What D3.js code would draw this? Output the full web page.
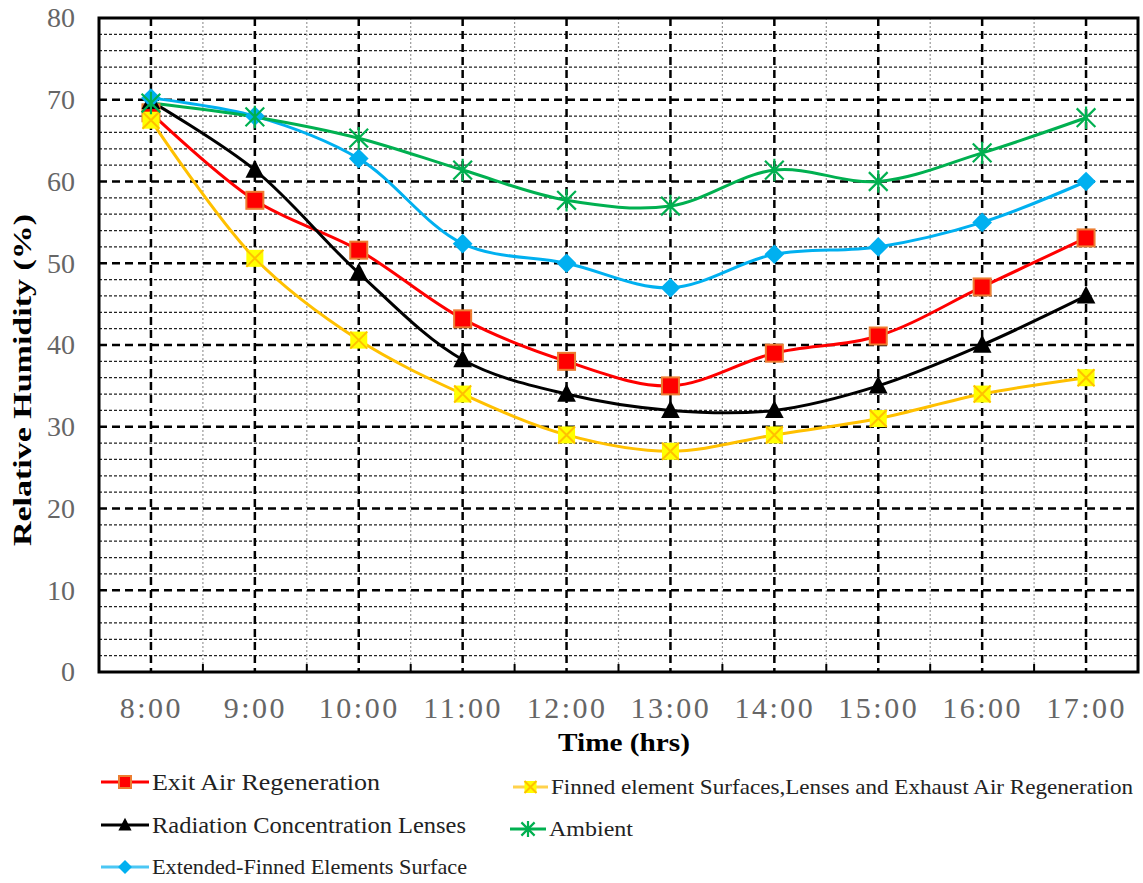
<!DOCTYPE html>
<html>
<head>
<meta charset="utf-8">
<script src="https://d3js.org/d3.v7.min.js"></script>
<style>
  body { margin: 0; background: #fff; }
  svg { display: block; }
  text { font-family: "Liberation Serif", "DejaVu Serif", serif; }
</style>
</head>
<body>
<svg id="chart" width="1143" height="883"></svg>
<script>
"use strict"

// chart values
const times = ["8:00", "9:00", "10:00", "11:00", "12:00", "13:00", "14:00", "15:00", "16:00", "17:00"]
const yTicks = [0, 10, 20, 30, 40, 50, 60, 70, 80]

const exitAir = [68.4, 57.7, 51.6, 43.2, 38.0, 35.0, 39.0, 41.1, 47.1, 53.1]
const lenses = [69.8, 61.4, 48.8, 38.2, 34.0, 32.0, 32.0, 35.0, 40.0, 46.0]
const extended = [70.2, 68.0, 62.8, 52.4, 50.0, 47.0, 51.1, 52.0, 55.0, 60.0]
const combined = [67.5, 50.6, 40.6, 34.0, 29.0, 27.0, 29.0, 31.0, 34.0, 36.0]
const ambient = [69.6, 67.9, 65.3, 61.4, 57.7, 57.0, 61.4, 60.0, 63.5, 67.8]

const seriesNames = [
  "Exit Air Regeneration",
  "Radiation Concentration Lenses",
  "Extended-Finned Elements Surface",
  "Finned element Surfaces,Lenses and Exhaust Air Regeneration",
  "Ambient",
]

function draw() {
  const $ = {
    left: 99, right: 1138, top: 18, bottom: 672,
  }
  const svg = d3.select("#chart")
  const serif = "Liberation Serif, DejaVu Serif, serif"

  const x = d3.scalePoint().domain(times).range([$.left, $.right]).padding(0.5)
  const y = d3.scaleLinear().domain([0, 80]).range([$.bottom, $.top])
  const step = x.step()

  // grid
  const grid = svg.append("g")
  const minorY = d3.range(2, 80, 2).filter(v => v % 10 !== 0)
  grid.selectAll(".minor-y").data(minorY).enter().append("line")
    .attr("x1", $.left).attr("x2", $.right)
    .attr("y1", d => y(d)).attr("y2", d => y(d))
    .attr("stroke", "#222").attr("stroke-width", 1.2).attr("stroke-dasharray", "3,2")

  const bounds = times.slice(1).map(t => x(t) - step / 2)
  grid.selectAll(".minor-x").data(bounds).enter().append("line")
    .attr("x1", d => d).attr("x2", d => d)
    .attr("y1", $.top).attr("y2", $.bottom)
    .attr("stroke", "#999").attr("stroke-width", 1.2).attr("stroke-dasharray", "2,2")

  grid.selectAll(".major-y").data(yTicks.slice(1, -1)).enter().append("line")
    .attr("x1", $.left).attr("x2", $.right)
    .attr("y1", d => y(d)).attr("y2", d => y(d))
    .attr("stroke", "#000").attr("stroke-width", 2.5).attr("stroke-dasharray", "8,5")

  grid.selectAll(".major-x").data(times).enter().append("line")
    .attr("x1", d => x(d)).attr("x2", d => x(d))
    .attr("y1", $.top).attr("y2", $.bottom)
    .attr("stroke", "#000").attr("stroke-width", 2.5).attr("stroke-dasharray", "8,5")

  // small ticks along the bottom
  grid.selectAll(".tick-x").data(bounds).enter().append("line")
    .attr("x1", d => d).attr("x2", d => d)
    .attr("y1", $.bottom).attr("y2", $.bottom - 8)
    .attr("stroke", "#000").attr("stroke-width", 2)

  // frame
  svg.append("rect")
    .attr("x", $.left).attr("y", $.top)
    .attr("width", $.right - $.left).attr("height", $.bottom - $.top)
    .attr("fill", "none").attr("stroke", "#000").attr("stroke-width", 3)

  // axes labels
  const yAxis = d3.axisLeft(y).tickValues(yTicks).tickSize(0).tickPadding(24)
  svg.append("g").attr("transform", `translate(${$.left},0)`).call(yAxis)
    .attr("font-family", serif)
    .call(g => g.select(".domain").remove())
    .selectAll("text")
      .attr("fill", "#666").style("font-size", "28px")

  const xAxis = d3.axisBottom(x).tickSize(0).tickPadding(25)
  svg.append("g").attr("transform", `translate(0,${$.bottom})`).call(xAxis)
    .attr("font-family", serif)
    .call(g => g.select(".domain").remove())
    .selectAll("text")
      .attr("fill", "#666").style("font-size", "30px").style("letter-spacing", "2.5px")

  svg.append("text")
    .attr("transform", `translate(31,380) rotate(-90)`)
    .attr("text-anchor", "middle")
    .attr("textLength", 332).attr("lengthAdjust", "spacingAndGlyphs")
    .style("font-size", "25px").style("font-weight", "bold")
    .text("Relative Humidity (%)")

  svg.append("text")
    .attr("x", 624).attr("y", 751)
    .attr("text-anchor", "middle")
    .attr("textLength", 132).attr("lengthAdjust", "spacingAndGlyphs")
    .style("font-size", "25px").style("font-weight", "bold")
    .text("Time (hrs)")

  // series
  const series = [
    { name: seriesNames[0], values: exitAir, line: "#ff0000", marker: "square", fill: "#ff0000", edge: "#ed7d31" },
    { name: seriesNames[1], values: lenses, line: "#000000", marker: "triangle", fill: "#000000", edge: "#000000" },
    { name: seriesNames[3], values: combined, line: "#ffc000", marker: "cross", fill: "#ffff00", edge: "#ffc000" },
    { name: seriesNames[2], values: extended, line: "#00b0f0", marker: "diamond", fill: "#00b0f0", edge: "#00b0f0" },
    { name: seriesNames[4], values: ambient, line: "#00b050", marker: "star", fill: "none", edge: "#00b050" },
  ]

  const line = d3.line()
    .x((d, i) => x(times[i]))
    .y(d => y(d))
    .curve(d3.curveCatmullRom.alpha(0.5))

  function marker(g, type, s, fill, edge) {
    if (type === "square") {
      g.append("rect").attr("x", -s / 2).attr("y", -s / 2).attr("width", s).attr("height", s)
        .attr("fill", fill).attr("stroke", edge).attr("stroke-width", 2)
    } else if (type === "triangle") {
      g.append("path").attr("d", `M0,${-s * 0.6}L${s * 0.55},${s * 0.45}L${-s * 0.55},${s * 0.45}Z`)
        .attr("fill", fill)
    } else if (type === "diamond") {
      g.append("path").attr("d", `M0,${-s * 0.58}L${s * 0.58},0L0,${s * 0.58}L${-s * 0.58},0Z`)
        .attr("fill", fill)
    } else if (type === "cross") {
      g.append("rect").attr("x", -s / 2).attr("y", -s / 2).attr("width", s).attr("height", s)
        .attr("fill", fill)
      g.append("path").attr("d", `M${-s / 2},${-s / 2}L${s / 2},${s / 2}M${s / 2},${-s / 2}L${-s / 2},${s / 2}`)
        .attr("stroke", edge).attr("stroke-width", 2).attr("fill", "none")
    } else if (type === "star") {
      const r = s * 0.55
      g.append("path").attr("d", `M${-r},${-r}L${r},${r}M${r},${-r}L${-r},${r}M0,${-r * 1.2}L0,${r * 1.2}`)
        .attr("stroke", edge).attr("stroke-width", 2.2).attr("fill", "none")
    }
  }

  const plot = svg.append("g")
  series.forEach(s => {
    plot.append("path")
      .datum(s.values)
      .attr("d", line)
      .attr("fill", "none").attr("stroke", s.line).attr("stroke-width", 3)
  })
  // markers on top, in the same order
  series.forEach(s => {
    plot.append("g").selectAll("g")
      .data(s.values)
      .enter().append("g")
        .attr("transform", (d, i) => `translate(${x(times[i])},${y(d)})`)
        .each(function () { marker(d3.select(this), s.marker, 17, s.fill, s.edge) })
  })

  // legend
  const legend = [
    { s: series[0], x: 101, y: 782, len: 48, size: 24, w: 228 },
    { s: series[1], x: 101, y: 825, len: 48, size: 24, w: 314 },
    { s: series[3], x: 101, y: 867, len: 48, size: 21, w: 315 },
    { s: series[2], x: 513, y: 787, len: 35, size: 21, w: 582 },
    { s: series[4], x: 510, y: 829, len: 36, size: 21, w: 84 },
  ]
  const lg = svg.append("g")
  legend.forEach(l => {
    const g = lg.append("g").attr("transform", `translate(${l.x},${l.y})`)
    g.append("line").attr("x1", 0).attr("x2", l.len).attr("y1", 0).attr("y2", 0)
      .attr("stroke", l.s.line).attr("stroke-width", 3)
      .attr("opacity", l.s.marker === "cross" || l.s.marker === "diamond" ? 0.7 : 1)
    const mg = g.append("g").attr("transform", `translate(${l.len / 2},0)`)
    marker(mg, l.s.marker, 12, l.s.fill, l.s.edge)
    g.append("text").attr("x", l.len + 3).attr("y", 0).attr("dy", "0.35em")
      .attr("fill", "#222").style("font-size", l.size + "px")
      .attr("textLength", l.w).attr("lengthAdjust", "spacingAndGlyphs")
      .text(l.s.name)
  })
}

draw()
</script>
</body>
</html>
